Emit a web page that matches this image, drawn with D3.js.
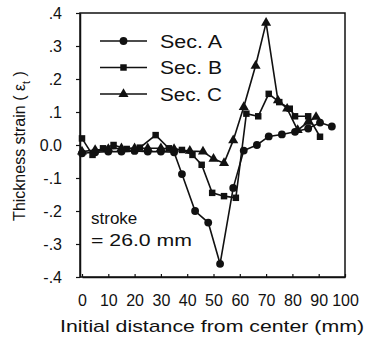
<!DOCTYPE html>
<html>
<head>
<meta charset="utf-8">
<script src="https://cdn.jsdelivr.net/npm/d3@7"></script>
<style>
  body { margin: 0; background: #fff; }
  svg { display: block; }
  text { font-family: "Liberation Sans", Arial, sans-serif; fill: #111; }
  .series path.line { fill: none; stroke: #111; stroke-width: 1.6; }
</style>
</head>
<body>
<div id="chart"></div>
<script>
// values (initial distance in mm, thickness strain)
const secAx = [0, 5, 10, 15, 20, 25, 30, 35, 38, 43, 48, 52.5, 57.5, 61.5, 66.5, 71, 76, 81, 86, 90.5, 95];
const secAy = [-0.025, -0.022, -0.02, -0.02, -0.018, -0.02, -0.02, -0.022, -0.088, -0.2, -0.235, -0.36, -0.13, -0.017, 0.0, 0.026, 0.032, 0.04, 0.05, 0.068, 0.056];

const secBx = [0, 4, 8, 12, 17, 22, 28, 33, 38, 42, 45.5, 49.5, 54, 58.5, 62.5, 67, 71, 75, 79, 81, 86, 90.5];
const secBy = [0.02, -0.03, -0.01, 0.0, -0.012, -0.008, 0.03, -0.01, -0.015, -0.03, -0.06, -0.145, -0.155, -0.16, 0.095, 0.087, 0.155, 0.13, 0.11, 0.087, 0.087, 0.025];

const secCx = [0, 5, 10, 15, 20, 25, 30, 35, 41, 46, 50, 54, 57.5, 61.5, 66, 70, 74.5, 78, 82, 86, 89];
const secCy = [-0.02, -0.015, -0.012, -0.01, -0.01, -0.01, -0.01, -0.012, -0.018, -0.02, -0.042, -0.055, 0.014, 0.115, 0.24, 0.37, 0.135, 0.11, 0.045, 0.07, 0.085];

const seriesNames = ["Sec. A", "Sec. B", "Sec. C"];
const markerShapes = [d3.symbolCircle, d3.symbolSquare, d3.symbolTriangle];

const xTicks = [0, 10, 20, 30, 40, 50, 60, 70, 80, 90, 100];
const yTicks = [0.4, 0.3, 0.2, 0.1, 0, -0.1, -0.2, -0.3, -0.4];
const yTickLabels = [".4", ".3", ".2", ".1", "0.0", "-.1", "-.2", "-.3", "-.4"];

const width = 372, height = 337;
const plot = { left: 80, right: 345, top: 13, bottom: 277 };

const svg = d3.select("#chart").append("svg")
  .attr("width", width)
  .attr("height", height);

const x = d3.scaleLinear().domain([0, 100]).range([plot.left + 2, plot.right]);
const y = d3.scaleLinear().domain([-0.4, 0.4]).range([plot.bottom, plot.top]);

// frame
svg.append("rect")
  .attr("x", plot.left)
  .attr("y", plot.top)
  .attr("width", plot.right - plot.left)
  .attr("height", plot.bottom - plot.top)
  .attr("fill", "none")
  .attr("stroke", "#111")
  .attr("stroke-width", 1.5);

// x axis
const xAxis = svg.append("g")
  .attr("transform", `translate(0,${plot.bottom})`)
  .call(d3.axisBottom(x).tickValues(xTicks).tickSizeInner(-3).tickSizeOuter(0).tickPadding(18));
xAxis.select(".domain").attr("stroke", "#111").attr("stroke-width", 1.5);
xAxis.selectAll(".tick line").attr("stroke", "#111").attr("stroke-width", 1.2);
xAxis.selectAll("text").attr("font-size", 16).attr("fill", "#111")
  .attr("font-family", "Liberation Sans, Arial, sans-serif");

// y axis
const yAxis = svg.append("g")
  .attr("transform", `translate(${plot.left},0)`)
  .call(d3.axisLeft(y).tickValues(yTicks).tickFormat((d, i) => yTickLabels[i]).tickSizeInner(4).tickSizeOuter(0).tickPadding(14));
yAxis.select(".domain").attr("stroke", "#111").attr("stroke-width", 1.5);
yAxis.selectAll(".tick line").attr("stroke", "#111").attr("stroke-width", 1.2);
yAxis.selectAll("text").attr("font-size", 16).attr("fill", "#111")
  .attr("font-family", "Liberation Sans, Arial, sans-serif");

// axis titles
svg.append("text")
  .attr("x", 212)
  .attr("y", 332)
  .attr("text-anchor", "middle")
  .attr("font-size", 17)
  .attr("textLength", 304)
  .attr("lengthAdjust", "spacingAndGlyphs")
  .text("Initial distance from center (mm)");

const yTitle = svg.append("text")
  .attr("transform", "translate(25,146) rotate(-90)")
  .attr("text-anchor", "middle")
  .attr("font-size", 16);
yTitle.append("tspan").text("Thickness strain ( ε");
yTitle.append("tspan").attr("font-size", 11).attr("dy", 5).text("t");
yTitle.append("tspan").attr("dy", -5).text(" )");

// annotation
svg.append("text").attr("x", 91).attr("y", 224).attr("font-size", 17).text("stroke");
svg.append("text").attr("x", 91).attr("y", 246).attr("font-size", 17)
  .attr("textLength", 101).attr("lengthAdjust", "spacingAndGlyphs").text("= 26.0 mm");

// series
const allSeries = [
  secAx.map((d, i) => [d, secAy[i]]),
  secBx.map((d, i) => [d, secBy[i]]),
  secCx.map((d, i) => [d, secCy[i]])
];
const markerSizes = [48, 42, 44];

const line = d3.line().x(d => x(d[0])).y(d => y(d[1]));

allSeries.forEach((pts, k) => {
  const g = svg.append("g").attr("class", "series");
  g.append("path").attr("class", "line").attr("d", line(pts));
  g.selectAll("path.pt")
    .data(pts)
    .join("path")
    .attr("class", "pt")
    .attr("transform", d => `translate(${x(d[0])},${y(d[1])})`)
    .attr("d", d3.symbol().type(markerShapes[k]).size(markerSizes[k]))
    .attr("fill", "#111");
});

// legend
const legend = svg.append("g");
seriesNames.forEach((name, k) => {
  const ly = 41 + k * 26.5;
  legend.append("line")
    .attr("x1", 100).attr("x2", 147)
    .attr("y1", ly).attr("y2", ly)
    .attr("stroke", "#111").attr("stroke-width", 1.5);
  legend.append("path")
    .attr("transform", `translate(123.5,${ly})`)
    .attr("d", d3.symbol().type(markerShapes[k]).size(markerSizes[k]))
    .attr("fill", "#111");
  legend.append("text")
    .attr("x", 160).attr("y", ly + 6.5)
    .attr("font-size", 18)
    .attr("textLength", 62)
    .attr("lengthAdjust", "spacingAndGlyphs")
    .text(name);
});
</script>
</body>
</html>
